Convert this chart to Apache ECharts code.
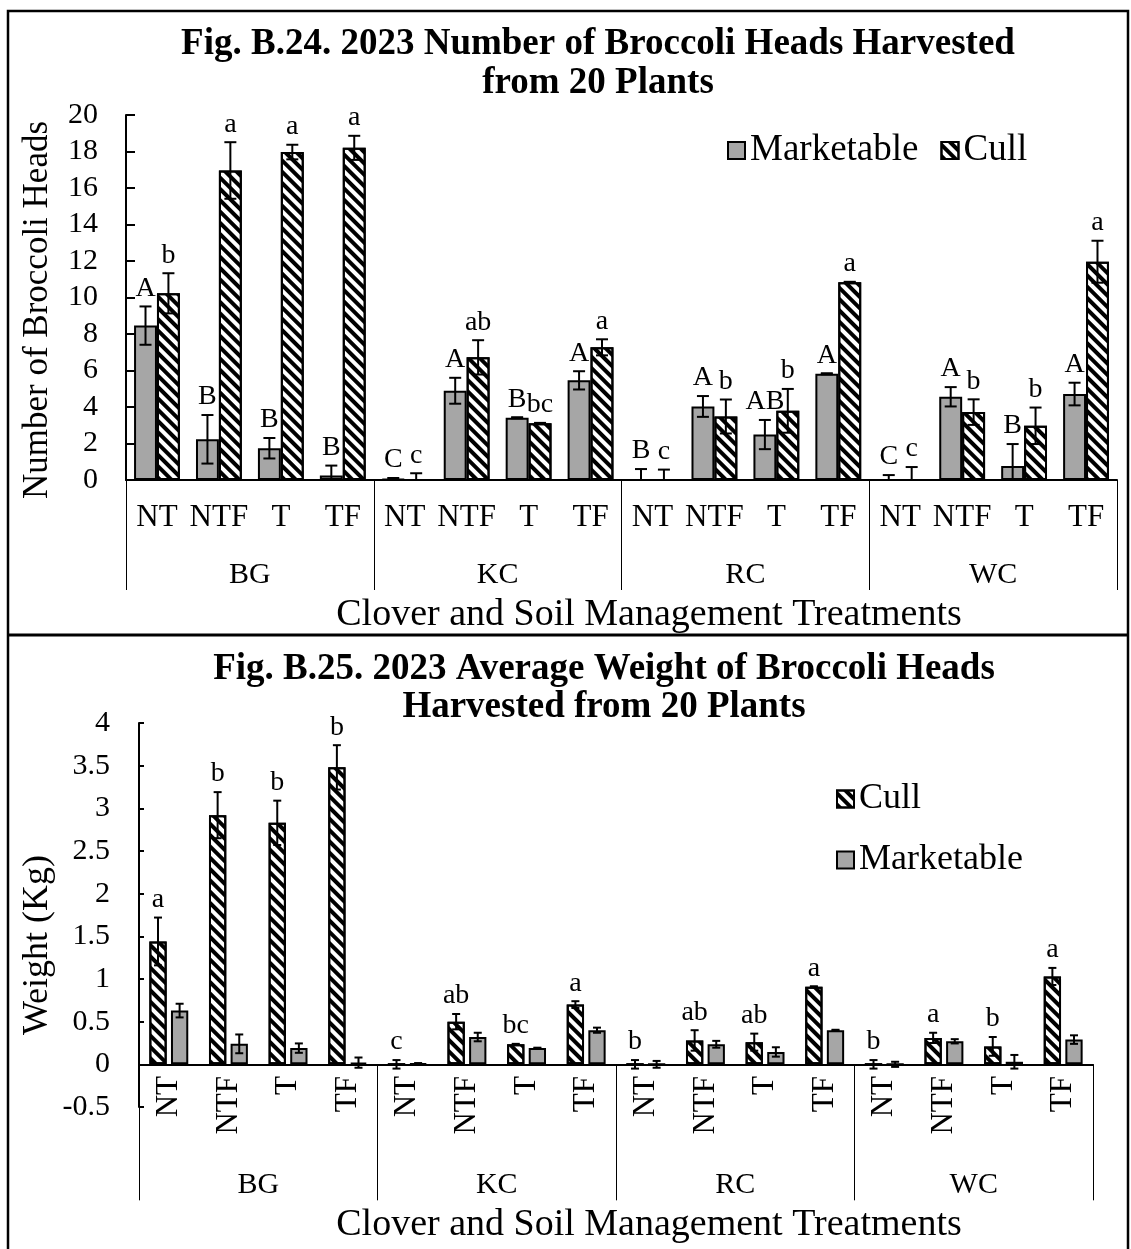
<!DOCTYPE html>
<html><head><meta charset="utf-8">
<script src="https://cdn.jsdelivr.net/npm/echarts@6/dist/echarts.min.js"></script>
<style>html,body{margin:0;padding:0;background:#fff}#c{width:1131px;height:1249px}</style>
</head><body><div id="c"></div>
<script>
// ---------- data ----------
const treatments = ['NT','NTF','T','TF','NT','NTF','T','TF','NT','NTF','T','TF','NT','NTF','T','TF'];
const clovers = ['BG','KC','RC','WC'];

// Fig. B.24 number of heads
const headsMarketable    = [8.46, 2.23, 1.74, 0.24, 0.05, 4.89, 3.41, 5.46, 0, 4.03, 2.49, 5.82, 0, 4.56, 0.77, 4.71];
const headsMarketableErr = [1.05, 1.33, 0.56, 0.55, 0.06, 0.71, 0.03, 0.50, 0.60, 0.57, 0.80, 0.03, 0.27, 0.53, 1.20, 0.62];
const headsCull          = [10.23, 16.96, 17.97, 18.2, 0, 6.72, 3.11, 7.27, 0, 3.48, 3.79, 10.84, 0, 3.72, 2.97, 11.96];
const headsCullErr       = [1.10, 1.55, 0.40, 0.66, 0.37, 0.94, 0.02, 0.44, 0.57, 0.93, 1.20, 0.02, 0.71, 0.70, 1.00, 1.15];
const headsMarketableLetters = ['A','B','B','B','C','A','B','A','B','A','AB','A','C','A','B','A'];
const headsCullLetters       = ['b','a','a','a','c','ab','bc','a','c','b','b','a','c','b','b','a'];

// Fig. B.25 average weight (kg)
const weightCull          = [1.44, 2.92, 2.83, 3.48, 0, 0.50, 0.235, 0.70, 0, 0.28, 0.26, 0.91, 0, 0.31, 0.21, 1.03];
const weightCullErr       = [0.28, 0.27, 0.26, 0.26, 0.05, 0.09, 0.005, 0.04, 0.05, 0.12, 0.10, 0.005, 0.05, 0.06, 0.11, 0.10];
const weightMarketable    = [0.63, 0.24, 0.19, 0.02, 0.01, 0.32, 0.19, 0.40, 0, 0.235, 0.145, 0.40, 0, 0.27, 0.03, 0.29];
const weightMarketableErr = [0.08, 0.11, 0.055, 0.06, 0.005, 0.05, 0.005, 0.03, 0.04, 0.04, 0.055, 0.005, 0.03, 0.025, 0.08, 0.05];
const weightCullLetters   = ['a','b','b','b','c','ab','bc','a','b','ab','ab','a','b','a','b','a'];

// ---------- styling ----------
const FONT = '"Liberation Serif", "Times New Roman", serif';
const mktStyle = {color:'#a6a6a6', borderColor:'#000', borderWidth:2};
const cullStyle = {color:'#fff', borderColor:'#000', borderWidth:2,
  decal:{symbol:'rect', symbolSize:1, color:'#000', dashArrayX:[1,0], dashArrayY:[4,4], rotation:Math.PI/4}};

function errRenderer(letters, side, widthFrac, gapFrac, capHalf, fontSize, floorZero) {
  return function (params, api) {
    const i = api.value(0), v = api.value(1), e = api.value(2);
    const band = api.size([1, 0])[0];
    const bw = band * widthFrac;
    const dx = side * (bw + bw * gapFrac) / 2;
    const lo = floorZero ? Math.max(0, v - e) : v - e;
    const pTop = api.coord([i, v + e]);
    const pLo = api.coord([i, lo]);
    const x = pTop[0] + dx;
    const ls = {stroke:'#000', lineWidth:2};
    const children = [
      {type:'line', shape:{x1:x, y1:pTop[1], x2:x, y2:pLo[1]}, style:ls},
      {type:'line', shape:{x1:x-capHalf, y1:pTop[1], x2:x+capHalf, y2:pTop[1]}, style:ls},
      {type:'line', shape:{x1:x-capHalf, y1:pLo[1], x2:x+capHalf, y2:pLo[1]}, style:ls}
    ];
    if (letters) {
      children.push({type:'text', style:{text:letters[params.dataIndex], x:x, y:pTop[1]-4,
        align:'center', verticalAlign:'bottom', font:fontSize+'px ' + FONT, fill:'#000'}});
    }
    return {type:'group', children};
  };
}
const toErrData = (vals, errs) => vals.map((v, i) => [i, v, errs[i]]);

const axisTextStyle = {color:'#000', fontFamily:FONT};

const option = {
  animation:false,
  backgroundColor:'#fff',
  title:[
    {text:'Fig. B.24. 2023 Number of Broccoli Heads Harvested\nfrom 20 Plants', left:598, top:25, textAlign:'center', padding:0,
     textStyle:{fontFamily:FONT, fontSize:37, fontWeight:'bold', color:'#000', lineHeight:39}},
    {text:'Fig. B.25. 2023 Average Weight of Broccoli Heads\nHarvested from 20 Plants', left:604, top:650, textAlign:'center', padding:0,
     textStyle:{fontFamily:FONT, fontSize:37, fontWeight:'bold', color:'#000', lineHeight:38}}
  ],
  legend:[
    {data:['Marketable','Cull'], left:722, top:127, orient:'horizontal', icon:'rect', itemWidth:17, itemHeight:17, itemGap:22,
     selectedMode:false, textStyle:{fontFamily:FONT, fontSize:37, color:'#000'}},
    {data:['Cull','Marketable'], left:831, top:776, orient:'vertical', icon:'rect', itemWidth:17, itemHeight:17, itemGap:25,
     selectedMode:false, textStyle:{fontFamily:FONT, fontSize:36, color:'#000'}}
  ],
  grid:[
    {left:126, top:115, width:991, height:365},
    {left:139, top:723, width:954, height:384}
  ],
  xAxis:[
    {gridIndex:0, type:'category', data:treatments, position:'bottom',
     axisLine:{lineStyle:{color:'#000', width:2}}, axisTick:{show:false},
     axisLabel:Object.assign({interval:0, fontSize:31, margin:22}, axisTextStyle)},
    {gridIndex:0, type:'category', data:clovers, position:'bottom',
     axisLine:{show:false}, axisTick:{show:true, length:110, lineStyle:{color:'#000', width:1}},
     axisLabel:Object.assign({interval:0, fontSize:30, margin:80}, axisTextStyle)},
    {gridIndex:1, type:'category', data:treatments, position:'bottom',
     axisLine:{onZero:true, onZeroAxisIndex:1, lineStyle:{color:'#000', width:2}}, axisTick:{show:false},
     axisLabel:Object.assign({interval:0, fontSize:31, margin:-31, rotate:90}, axisTextStyle)},
    {gridIndex:1, type:'category', data:clovers, position:'bottom',
     axisLine:{show:false, onZero:true, onZeroAxisIndex:1}, axisTick:{show:true, length:136, lineStyle:{color:'#000', width:1}},
     axisLabel:Object.assign({interval:0, fontSize:30, margin:63}, axisTextStyle)}
  ],
  yAxis:[
    {gridIndex:0, type:'value', min:0, max:20, interval:2,
     axisLine:{show:true, lineStyle:{color:'#000', width:2}},
     axisTick:{show:true, inside:true, length:9, lineStyle:{color:'#000', width:2}},
     splitLine:{show:false},
     axisLabel:Object.assign({fontSize:30, margin:28}, axisTextStyle)},
    {gridIndex:1, type:'value', min:-0.5, max:4, interval:0.5,
     axisLine:{show:true, onZero:false, lineStyle:{color:'#000', width:2}},
     axisTick:{show:true, inside:true, length:5, lineStyle:{color:'#000', width:2}},
     splitLine:{show:false},
     axisLabel:Object.assign({fontSize:30, margin:29}, axisTextStyle)}
  ],
  series:[
    {type:'bar', name:'Marketable', xAxisIndex:0, yAxisIndex:0, data:headsMarketable, barWidth:'37%', barGap:'0%', itemStyle:mktStyle},
    {type:'bar', name:'Cull', xAxisIndex:0, yAxisIndex:0, data:headsCull, barWidth:'37%', barGap:'0%', itemStyle:cullStyle},
    {type:'custom', name:'errM1', xAxisIndex:0, yAxisIndex:0, z:10, encode:{x:0, y:1},
     renderItem:errRenderer(headsMarketableLetters, -1, 0.37, 0, 6, 28, true), data:toErrData(headsMarketable, headsMarketableErr)},
    {type:'custom', name:'errC1', xAxisIndex:0, yAxisIndex:0, z:10, encode:{x:0, y:1},
     renderItem:errRenderer(headsCullLetters, 1, 0.37, 0, 6, 28, true), data:toErrData(headsCull, headsCullErr)},

    {type:'bar', name:'Cull', xAxisIndex:2, yAxisIndex:1, data:weightCull, barWidth:'29%', barGap:'25%', itemStyle:cullStyle},
    {type:'bar', name:'Marketable', xAxisIndex:2, yAxisIndex:1, data:weightMarketable, barWidth:'29%', barGap:'25%', itemStyle:mktStyle},
    {type:'custom', name:'errC2', xAxisIndex:2, yAxisIndex:1, z:10, encode:{x:0, y:1},
     renderItem:errRenderer(weightCullLetters, -1, 0.29, 0.25, 4, 28, false), data:toErrData(weightCull, weightCullErr)},
    {type:'custom', name:'errM2', xAxisIndex:2, yAxisIndex:1, z:10, encode:{x:0, y:1},
     renderItem:errRenderer(null, 1, 0.29, 0.25, 4, 28, false), data:toErrData(weightMarketable, weightMarketableErr)}
  ],
  graphic:[
    {type:'rect', silent:true, shape:{x:8, y:11, width:1120, height:1260}, style:{fill:'none', stroke:'#000', lineWidth:2.5}},
    {type:'line', silent:true, shape:{x1:8, y1:635, x2:1128, y2:635}, style:{stroke:'#000', lineWidth:3}},
    {type:'text', silent:true, x:38, y:310, rotation:Math.PI/2,
     style:{text:'Number of Broccoli Heads', align:'center', verticalAlign:'middle', font:'35px ' + FONT, fill:'#000'}},
    {type:'text', silent:true, x:38, y:945, rotation:Math.PI/2,
     style:{text:'Weight (Kg)', align:'center', verticalAlign:'middle', font:'36px ' + FONT, fill:'#000'}},
    {type:'text', silent:true, x:649, y:615,
     style:{text:'Clover and Soil Management Treatments', align:'center', verticalAlign:'middle', font:'38px ' + FONT, fill:'#000'}},
    {type:'text', silent:true, x:649, y:1225,
     style:{text:'Clover and Soil Management Treatments', align:'center', verticalAlign:'middle', font:'38px ' + FONT, fill:'#000'}}
  ]
};
const chart = echarts.init(document.getElementById('c'), null, {renderer:'canvas'});
chart.setOption(option);
</script></body></html>
